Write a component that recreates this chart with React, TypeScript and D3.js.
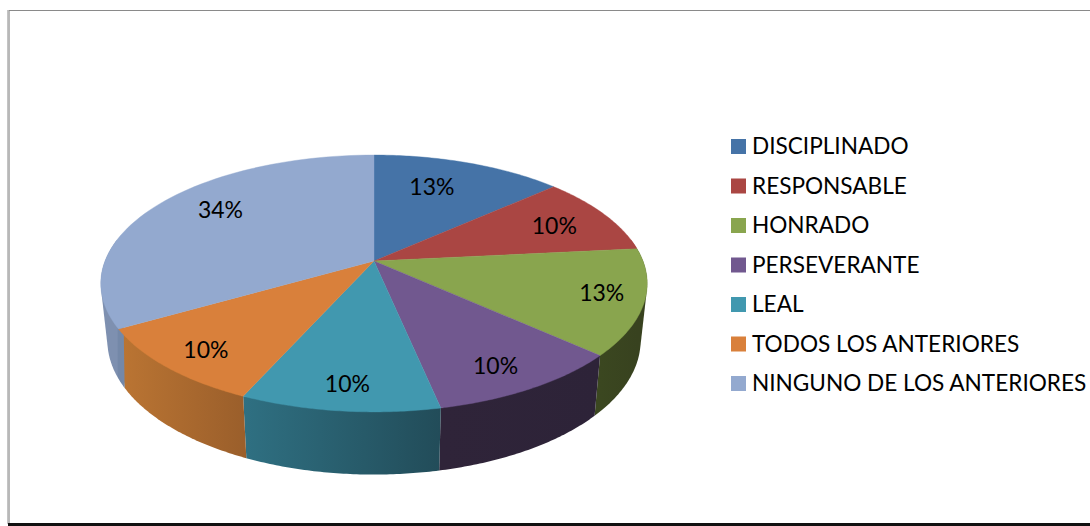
import React from "react";
import * as d3 from "d3";

const categories = ["DISCIPLINADO", "RESPONSABLE", "HONRADO", "PERSEVERANTE", "LEAL", "TODOS LOS ANTERIORES", "NINGUNO DE LOS ANTERIORES"];
const sliceValues = [13.4, 10, 13.3, 10, 10, 10, 33.3];
const percentLabels = ["13%", "10%", "13%", "10%", "10%", "10%", "34%"];
const topColors = ["#4573A7", "#AA4643", "#89A54E", "#71588F", "#4198AF", "#D9803B", "#93A9CF"];
const wallLeft = ["#4573A7", "#AA4643", "#3B4720", "#2F2439", "#2F7082", "#BB7533", "#7E90B0"];
const wallRight = ["#4573A7", "#AA4643", "#38421F", "#2D2338", "#224C59", "#9B5F2B", "#7488A8"];

// label placement, as a share of the radius and a turn from the slice's middle
const labelRadius = [0.705, 0.763, 0.847, 0.834, 0.846, 0.843, 0.758];
const labelTurnDeg = [-4.2, 1.2, -1.1, 1.7, -0.4, -0.9, 5.7];

// perspective of the disc: a unit circle seen from in front and above
const cx = 374;
const k = 0.175;
const top = { x: 269, y: 124.5, cy: 261 };
const bottom = { x: 262.5, y: 130, cy: 317 };
const project = (a: number, r: number, p: typeof top): [number, number] => {
  const u = r * Math.sin(a);
  const v = -r * Math.cos(a);
  const w = 1 - k * v;
  return [cx + (p.x * u) / w, p.cy + (p.y * v) / w];
};
const sample = (a0: number, a1: number) => d3.range(0, 61).map((i) => a0 + ((a1 - a0) * i) / 60);
const line = d3.line();

const legendY = d3.scalePoint<string>().domain(categories).range([146.5, 383.5]);
const fontFamily = "Lato, Carlito, sans-serif";

export default function App() {
  const arcs = d3.pie<number>().sort(null)(sliceValues);
  const wallFrom = (80 * Math.PI) / 180;
  const wallTo = (280 * Math.PI) / 180;
  return (
    <svg width={1090} height={526} style={{ position: "fixed", left: 0, top: 0, background: "#fff" }}>
      <defs>
        {arcs.map((d, i) => {
          const a0 = Math.max(d.startAngle, wallFrom);
          const a1 = Math.min(d.endAngle, wallTo);
          if (a1 <= a0) return null;
          const x0 = project(a0, 1, top)[0];
          const x1 = project(a1, 1, top)[0];
          return (
            <linearGradient key={i} id={`wall${i}`} gradientUnits="userSpaceOnUse" x1={Math.min(x0, x1)} x2={Math.max(x0, x1)} y1={0} y2={0}>
              <stop offset="0" stopColor={wallLeft[i]} />
              <stop offset="1" stopColor={wallRight[i]} />
            </linearGradient>
          );
        })}
      </defs>
      <path d="M1090,10.5H9V524" fill="none" stroke="#8a8a8a" strokeWidth={1.2} />
      <path d="M7.5,10V524" stroke="#c4c4c4" strokeWidth={1} />
      <path d="M8,524.5H1090" stroke="#111" strokeWidth={3} />

      {arcs.map((d, i) => {
        const a0 = Math.max(d.startAngle, wallFrom);
        const a1 = Math.min(d.endAngle, wallTo);
        if (a1 <= a0) return null;
        const angles = sample(a0, a1);
        const hull = d3.polygonHull([...angles.map((a) => project(a, 1, top)), ...angles.map((a) => project(a, 1, bottom))]);
        return <path key={i} d={line(hull as [number, number][]) + "Z"} fill={`url(#wall${i})`} />;
      })}

      {arcs.map((d, i) => {
        const pts = [[cx, top.cy] as [number, number], ...sample(d.startAngle, d.endAngle).map((a) => project(a, 1, top))];
        return <path key={i} d={line(pts) + "Z"} fill={topColors[i]} stroke={topColors[i]} strokeWidth={0.4} />;
      })}

      {arcs.map((d, i) => {
        const mid = (d.startAngle + d.endAngle) / 2 + (labelTurnDeg[i] * Math.PI) / 180;
        const [x, y] = project(mid, labelRadius[i], top);
        return (
          <text key={i} x={x} y={y + 8} textAnchor="middle" fontFamily={fontFamily} fontSize={23} fill="#000">
            {percentLabels[i]}
          </text>
        );
      })}

      {categories.map((c, i) => {
        const y = legendY(c) as number;
        return (
          <g key={c}>
            <rect x={731} y={y - 7.5} width={15} height={15} fill={topColors[i]} />
            <text x={752} y={y + 7.5} fontFamily={fontFamily} fontSize={22.6} fill="#000">
              {c}
            </text>
          </g>
        );
      })}
    </svg>
  );
}
